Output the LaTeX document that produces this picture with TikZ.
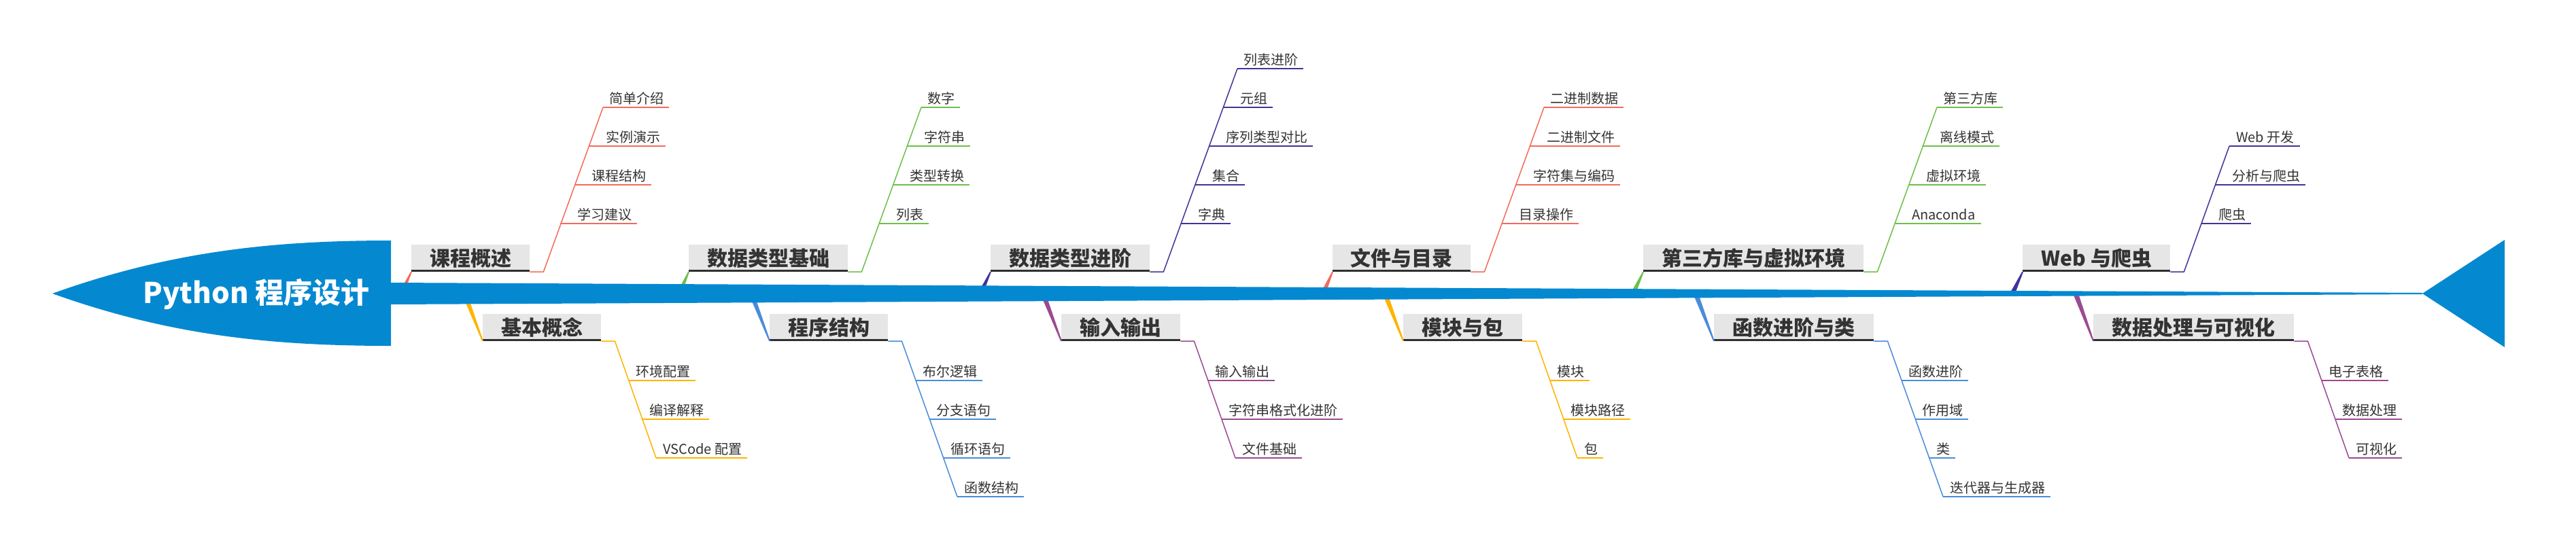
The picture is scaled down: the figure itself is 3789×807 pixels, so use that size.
\documentclass[tikz,border=0pt]{standalone}
\usepackage{fontspec}
\newfontfamily\cjk{Noto Sans CJK SC}
\usetikzlibrary{calc}
\definecolor{headblue}{HTML}{0489D1}
\definecolor{boxgray}{HTML}{E6E6E6}
\definecolor{txtc}{HTML}{333333}
\definecolor{darkline}{HTML}{303030}
\definecolor{cSal}{HTML}{F36C5A}
\definecolor{cGrn}{HTML}{6DC04B}
\definecolor{cInd}{HTML}{3F3599}
\definecolor{cYel}{HTML}{FFB300}
\definecolor{cBlu}{HTML}{4A8CDB}
\definecolor{cPur}{HTML}{9C4A92}
\tikzset{
  hbox/.style={fill=boxgray, text=txtc, font=\cjk\bfseries\fontsize{30}{36}\selectfont, minimum height=40pt, inner sep=0pt, anchor=south west},
  hline/.style={draw=darkline, line width=3pt},
  subt/.style={text=txtc, font=\cjk\fontsize{20}{24}\selectfont, inner sep=0pt, anchor=base west},
  diagl/.style={line width=1.5pt, line join=round},
  ulin/.style={line width=2.2pt},
}
% #1 name, #2 point on the diagonal, #3 text offset, #4 colour, #5 text
\newcommand\fbsub[5]{%
  \coordinate (d#1) at (#2);
  \node[subt] (t#1) at ($(d#1)+(#3,-6)$) {#5};
  \draw[ulin,#4] (d#1) -- ($(d#1 -| t#1.east)+(8,0)$);}
% tapered connector from spine point #1 to box corner #2
\newcommand\fbstem[3]{%
  \fill[#3] ($(#1)+(-4,0)$) -- ($(#1)+(4,0)$) -- ($(#2)+(1,0)$) -- ($(#2)+(-1,0)$) -- cycle;}
\begin{document}
\begin{tikzpicture}[x=1pt,y=-1pt]
\useasboundingbox (0,0) rectangle (3789,807);

% heading boxes
\node[hbox, minimum width=174pt] (h1) at (605,400) {课程概述};
\node[hbox, minimum width=234pt] (h2) at (1013,400) {数据类型基础};
\node[hbox, minimum width=234pt] (h3) at (1457,400) {数据类型进阶};
\node[hbox, minimum width=203pt] (h4) at (1960,400) {文件与目录};
\node[hbox, minimum width=324pt] (h5) at (2417,400) {第三方库与虚拟环境};
\node[hbox, minimum width=217pt] (h6) at (2975,400) {Web 与爬虫};
\node[hbox, minimum width=174pt] (h7) at (710,502) {基本概念};
\node[hbox, minimum width=174pt] (h8) at (1132,502) {程序结构};
\node[hbox, minimum width=175pt] (h9) at (1561,502) {输入输出};
\node[hbox, minimum width=175pt] (h10) at (2064,502) {模块与包};
\node[hbox, minimum width=235pt] (h11) at (2521,502) {函数进阶与类};
\node[hbox, minimum width=295pt] (h12) at (3079,502) {数据处理与可视化};
\foreach \h in {h1,h2,h3,h4,h5,h6,h7,h8,h9,h10,h11,h12}
  \draw[hline] ([yshift=1.5pt]\h.south west) -- ([yshift=1.5pt]\h.south east);

% spine points of the bones
\coordinate (b1) at (590,432);
\coordinate (b2) at (999,432);
\coordinate (b3) at (1442,432);
\coordinate (b4) at (1946,432);
\coordinate (b5) at (2402,432);
\coordinate (b6) at (2960,432);
\coordinate (b7) at (683,432);
\coordinate (b8) at (1105,432);
\coordinate (b9) at (1534,432);
\coordinate (b10) at (2037,432);
\coordinate (b11) at (2494,432);
\coordinate (b12) at (3053,432);
\fbstem{b1}{h1.south west}{cSal}
\fbstem{b2}{h2.south west}{cGrn}
\fbstem{b3}{h3.south west}{cInd}
\fbstem{b4}{h4.south west}{cSal}
\fbstem{b5}{h5.south west}{cGrn}
\fbstem{b6}{h6.south west}{cInd}
\fbstem{b7}{h7.south west}{cYel}
\fbstem{b8}{h8.south west}{cBlu}
\fbstem{b9}{h9.south west}{cPur}
\fbstem{b10}{h10.south west}{cYel}
\fbstem{b11}{h11.south west}{cBlu}
\fbstem{b12}{h12.south west}{cPur}

% head, spine, tail
\coordinate (sp0) at (575,432);
\coordinate (sp1) at (3563,432);
\fill[headblue] (77,432) .. controls (250,370) and (400,354) .. (575,354) -- (575,509) .. controls (400,509) and (250,494) .. (77,432) -- cycle;
\fill[headblue] ($(sp0)+(0,-16)$) -- ($(sp1)+(0,-1)$) -- ($(sp1)+(0,1)$) -- ($(sp0)+(0,16)$) -- cycle;
\fill[headblue] (sp1) -- (3684,353) -- (3684,511) -- cycle;
\node[font=\cjk\bfseries\fontsize{42}{50}\selectfont, text=white, inner sep=0pt] (root) at (377,433) {Python 程序设计};

% elbows
\foreach \i in {1,...,12}
  \coordinate (e\i) at ($(h\i.south east)+(20,0)$);

% group 1
\fbsub{1a}{887,158}{9}{cSal}{简单介绍}
\fbsub{1b}{866,215}{25}{cSal}{实例演示}
\fbsub{1c}{845,272}{25}{cSal}{课程结构}
\fbsub{1d}{824,329}{25}{cSal}{学习建议}
\draw[diagl,cSal] (h1.south east) -- (e1) -- (d1a);
% group 2
\fbsub{2a}{1355,158}{9}{cGrn}{数字}
\fbsub{2b}{1334,215}{25}{cGrn}{字符串}
\fbsub{2c}{1313,272}{25}{cGrn}{类型转换}
\fbsub{2d}{1293,329}{25}{cGrn}{列表}
\draw[diagl,cGrn] (h2.south east) -- (e2) -- (d2a);
% group 3
\fbsub{3a}{1820,101}{9}{cInd}{列表进阶}
\fbsub{3b}{1799,158}{25}{cInd}{元组}
\fbsub{3c}{1778,215}{25}{cInd}{序列类型对比}
\fbsub{3d}{1758,272}{25}{cInd}{集合}
\fbsub{3e}{1737,329}{25}{cInd}{字典}
\draw[diagl,cInd] (h3.south east) -- (e3) -- (d3a);
% group 4
\fbsub{4a}{2271,158}{9}{cSal}{二进制数据}
\fbsub{4b}{2250,215}{25}{cSal}{二进制文件}
\fbsub{4c}{2230,272}{25}{cSal}{字符集与编码}
\fbsub{4d}{2209,329}{25}{cSal}{目录操作}
\draw[diagl,cSal] (h4.south east) -- (e4) -- (d4a);
% group 5
\fbsub{5a}{2849,158}{9}{cGrn}{第三方库}
\fbsub{5b}{2828,215}{25}{cGrn}{离线模式}
\fbsub{5c}{2808,272}{25}{cGrn}{虚拟环境}
\fbsub{5d}{2787,329}{25}{cGrn}{Anaconda}
\draw[diagl,cGrn] (h5.south east) -- (e5) -- (d5a);
% group 6
\fbsub{6a}{3279,215}{10}{cInd}{Web 开发}
\fbsub{6b}{3258,272}{25}{cInd}{分析与爬虫}
\fbsub{6c}{3238,329}{25}{cInd}{爬虫}
\draw[diagl,cInd] (h6.south east) -- (e6) -- (d6a);
% group 7
\fbsub{7a}{925,560}{10}{cYel}{环境配置}
\fbsub{7b}{945,617}{10}{cYel}{编译解释}
\fbsub{7c}{965,674}{10}{cYel}{VSCode 配置}
\draw[diagl,cYel] (h7.south east) -- (e7) -- (d7c);
% group 8
\fbsub{8a}{1347,560}{10}{cBlu}{布尔逻辑}
\fbsub{8b}{1367,617}{10}{cBlu}{分支语句}
\fbsub{8c}{1388,674}{10}{cBlu}{循环语句}
\fbsub{8d}{1408,731}{10}{cBlu}{函数结构}
\draw[diagl,cBlu] (h8.south east) -- (e8) -- (d8d);
% group 9
\fbsub{9a}{1777,560}{10}{cPur}{输入输出}
\fbsub{9b}{1797,617}{10}{cPur}{字符串格式化进阶}
\fbsub{9c}{1817,674}{10}{cPur}{文件基础}
\draw[diagl,cPur] (h9.south east) -- (e9) -- (d9c);
% group 10
\fbsub{10a}{2280,560}{10}{cYel}{模块}
\fbsub{10b}{2300,617}{10}{cYel}{模块路径}
\fbsub{10c}{2320,674}{10}{cYel}{包}
\draw[diagl,cYel] (h10.south east) -- (e10) -- (d10c);
% group 11
\fbsub{11a}{2797,560}{10}{cBlu}{函数进阶}
\fbsub{11b}{2817,617}{10}{cBlu}{作用域}
\fbsub{11c}{2838,674}{10}{cBlu}{类}
\fbsub{11d}{2858,731}{10}{cBlu}{迭代器与生成器}
\draw[diagl,cBlu] (h11.south east) -- (e11) -- (d11d);
% group 12
\fbsub{12a}{3415,560}{10}{cPur}{电子表格}
\fbsub{12b}{3435,617}{10}{cPur}{数据处理}
\fbsub{12c}{3455,674}{10}{cPur}{可视化}
\draw[diagl,cPur] (h12.south east) -- (e12) -- (d12c);
\end{tikzpicture}
\end{document}
